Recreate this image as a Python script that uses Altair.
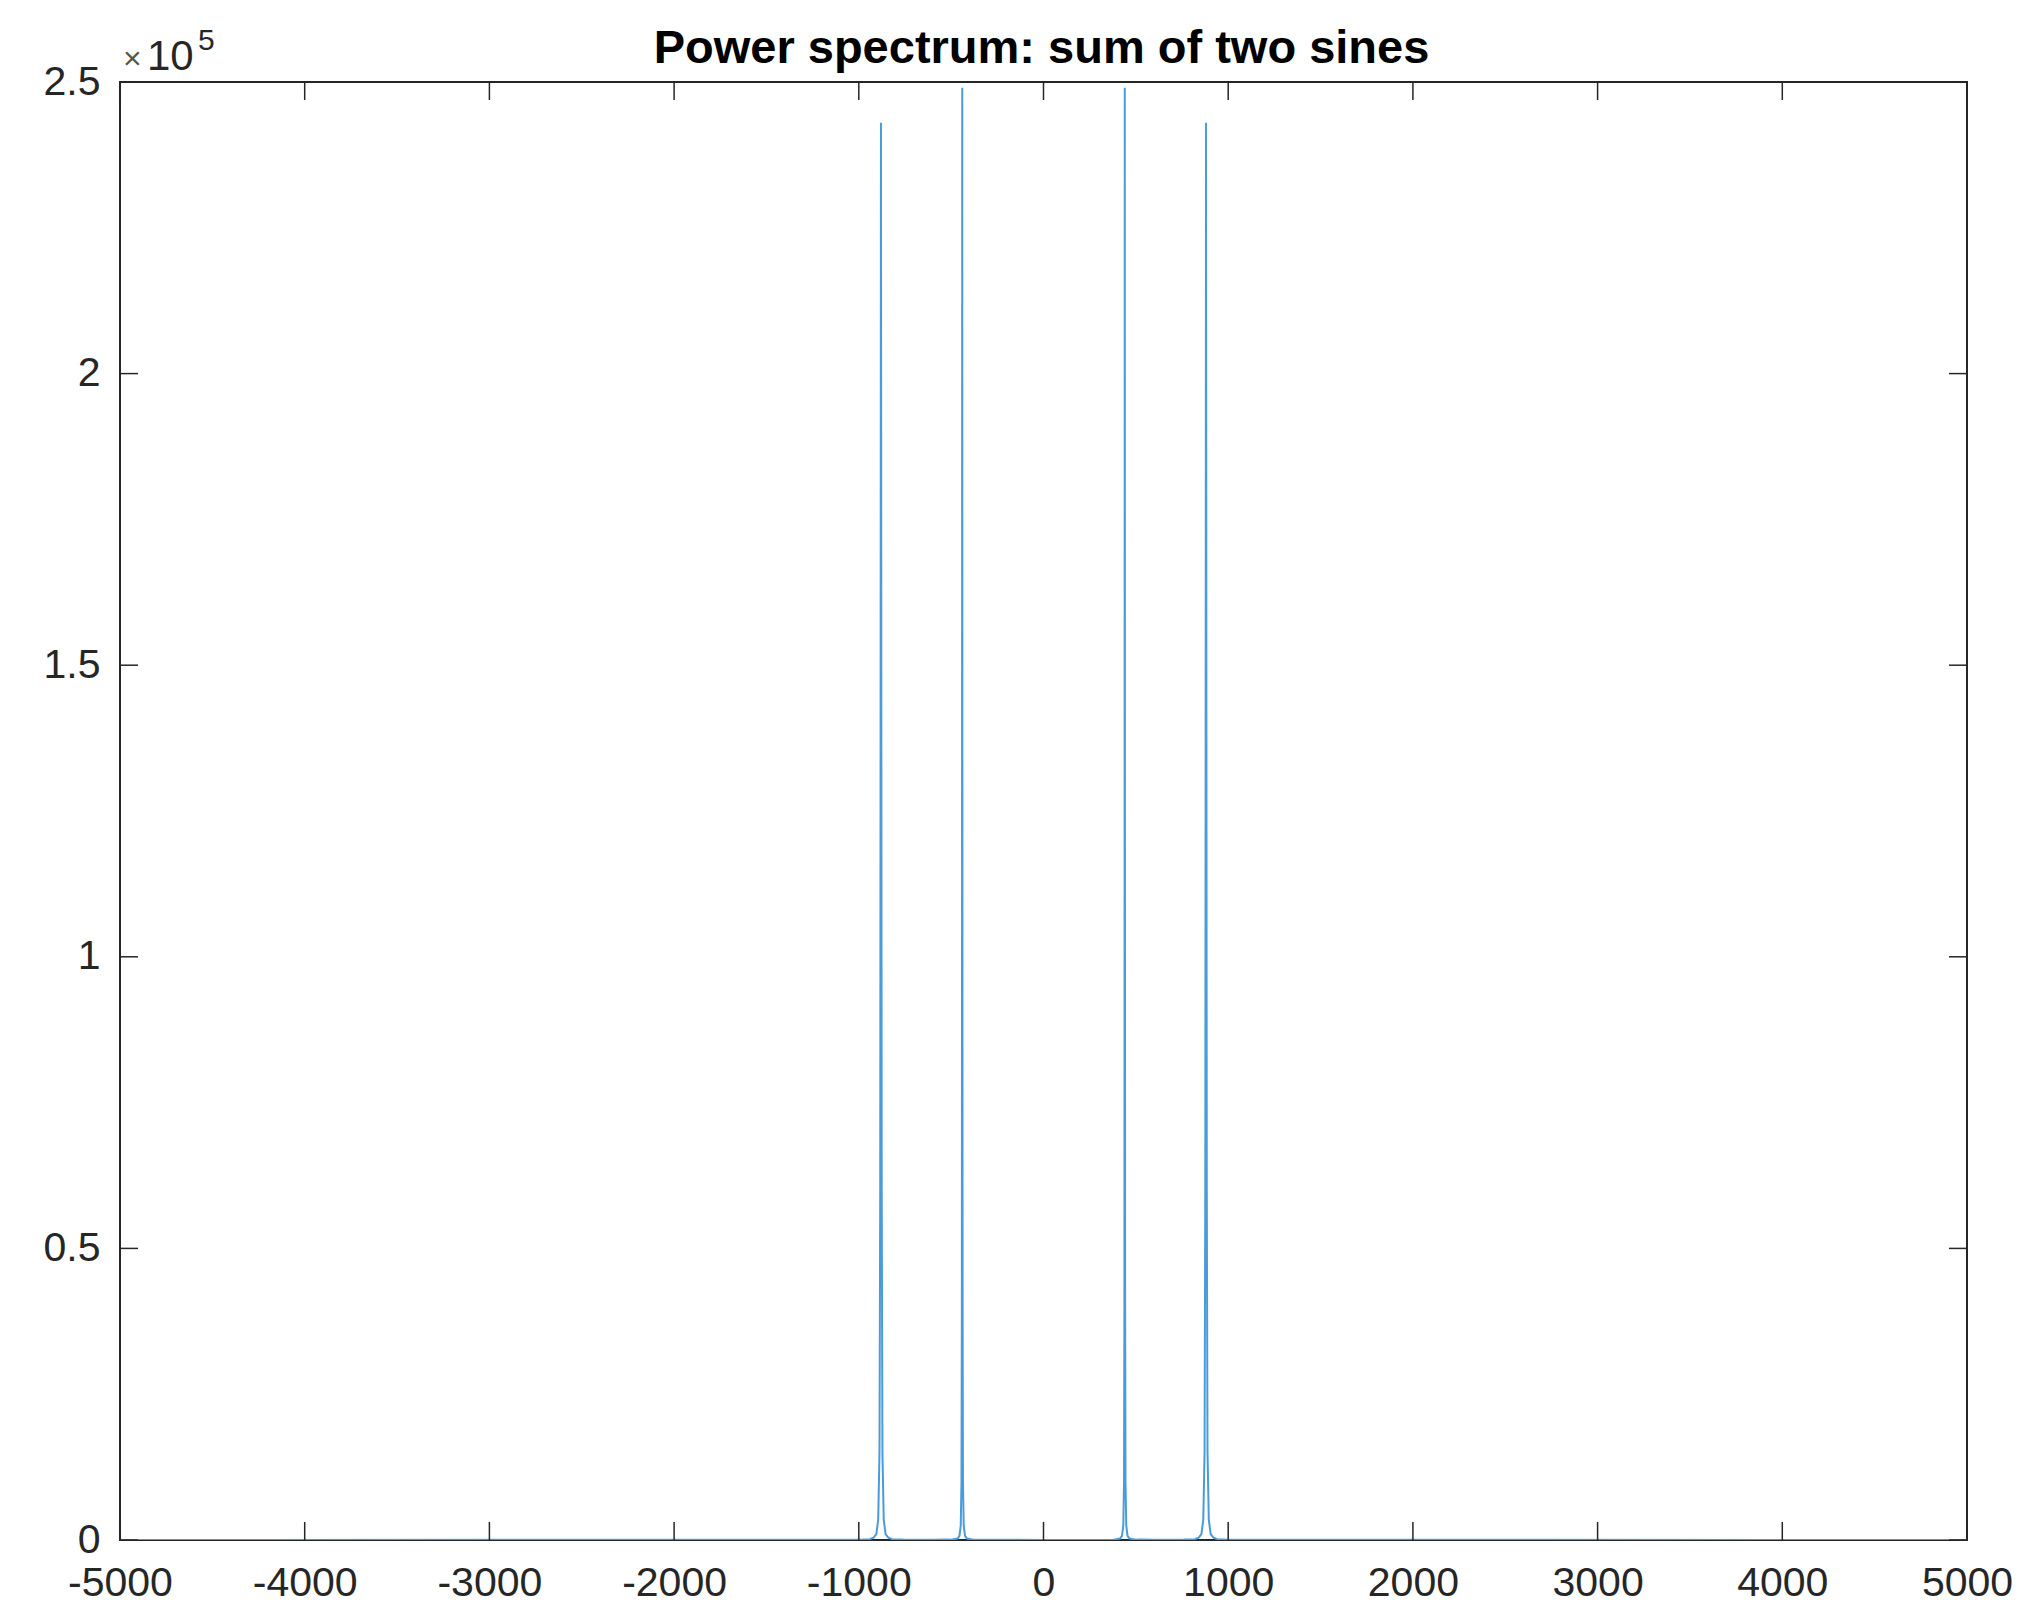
import altair as alt
import pandas as pd

# ---- data ----
# frequency (Hz) and power values of the plotted spectrum, segment by segment
freq = (
    [-5000, -1100, -1000]
    + [-940, -920, -905, -895, -888, -884, -882, -880, -878, -876, -872, -865, -855, -840, -820]
    + [-760, -600, -520]
    + [-500, -465, -455, -448, -444, -442, -441, -440, -439, -438, -436, -432, -425, -415, -380]
    + [0]
    + [380, 415, 425, 432, 436, 438, 439, 440, 441, 442, 444, 448, 455, 465, 500]
    + [520, 600, 760]
    + [820, 840, 855, 865, 872, 876, 878, 880, 882, 884, 888, 895, 905, 920, 940]
    + [1000, 1100, 5000]
)
power = (
    [15, 30, 45]
    + [150, 400, 1000, 3500, 15000, 60000, 140000, 243000, 140000, 60000, 15000, 3500, 1000, 400, 150]
    + [80, 50, 70]
    + [50, 250, 700, 2500, 10000, 40000, 110000, 249000, 110000, 40000, 10000, 2500, 700, 250, 50]
    + [20]
    + [50, 250, 700, 2500, 10000, 40000, 110000, 249000, 110000, 40000, 10000, 2500, 700, 250, 50]
    + [70, 50, 80]
    + [150, 400, 1000, 3500, 15000, 60000, 140000, 243000, 140000, 60000, 15000, 3500, 1000, 400, 150]
    + [45, 30, 15]
)
x_ticks = [-5000, -4000, -3000, -2000, -1000, 0, 1000, 2000, 3000, 4000, 5000]
y_ticks = [0, 50000, 100000, 150000, 200000, 250000]
title_text = "Power spectrum: sum of two sines"
exp_base = "10"
exp_power = "5"

assert len(freq) == len(power)
spec = pd.DataFrame({"f": freq, "p": power})
xt = pd.DataFrame({"f": x_ticks})
yt = pd.DataFrame({"p": y_ticks})

W, H = 1847, 1458
FONT = "Liberation Sans"
AX = "#262626"
TL = 18

x_axis = alt.Axis(values=x_ticks, ticks=False, domain=False, grid=False, title=None,
                  labelFont=FONT, labelFontSize=41, labelColor=AX, labelPadding=23,
                  labelFlush=False, labelOverlap=False,
                  labelExpr="toString(datum.value)")
y_axis = alt.Axis(values=y_ticks, ticks=False, domain=False, grid=False, title=None,
                  labelFont=FONT, labelFontSize=41, labelColor=AX, labelPadding=20,
                  labelExpr="toString(datum.value / 100000)", labelOverlap=False)
xs = alt.Scale(domain=[-5000, 5000], nice=False, zero=False)
ys = alt.Scale(domain=[0, 250000], nice=False)

X = alt.X("f:Q", scale=xs, axis=x_axis)
Y = alt.Y("p:Q", scale=ys, axis=y_axis)

line = alt.Chart(spec).mark_line(color="#4a9bdb", strokeWidth=2, clip=True,
                                 interpolate="linear").encode(x=X, y=Y)

tick_style = dict(color=AX, strokeWidth=1.5)
bottom_ticks = alt.Chart(xt).mark_rule(**tick_style).encode(
    x=X, y=alt.value(H), y2=alt.value(H - TL))
top_ticks = alt.Chart(xt).mark_rule(**tick_style).encode(
    x=X, y=alt.value(0), y2=alt.value(TL))
left_ticks = alt.Chart(yt).mark_rule(**tick_style).encode(
    y=Y, x=alt.value(0), x2=alt.value(TL))
right_ticks = alt.Chart(yt).mark_rule(**tick_style).encode(
    y=Y, x=alt.value(W), x2=alt.value(W - TL))

one = pd.DataFrame({"a": [0]})
title = alt.Chart(one).mark_text(text=title_text, font=FONT, fontSize=47, fontWeight="bold",
                                 color="black", align="center", baseline="alphabetic").encode(
    x=alt.value(W / 2 - 2), y=alt.value(-19))
times = alt.Chart(one).mark_text(text="×", font=FONT, fontSize=32, color="#555555",
                                 align="left", baseline="alphabetic").encode(
    x=alt.value(3), y=alt.value(-13))
ten = alt.Chart(one).mark_text(text=exp_base, font=FONT, fontSize=42, color=AX,
                               align="left", baseline="alphabetic").encode(
    x=alt.value(27), y=alt.value(-12))
five = alt.Chart(one).mark_text(text=exp_power, font=FONT, fontSize=30, color=AX,
                                align="left", baseline="alphabetic").encode(
    x=alt.value(78), y=alt.value(-32))

chart = alt.layer(line, bottom_ticks, top_ticks, left_ticks, right_ticks,
                  title, times, ten, five).properties(
    width=W, height=H,
    background="white",
    autosize=alt.AutoSizeParams(type="none"),
    padding={"left": 120, "top": 82, "right": 71, "bottom": 69},
).configure_view(stroke=AX, strokeWidth=2)

chart.save("out.html", embed_options={"renderer": "svg", "actions": False})
